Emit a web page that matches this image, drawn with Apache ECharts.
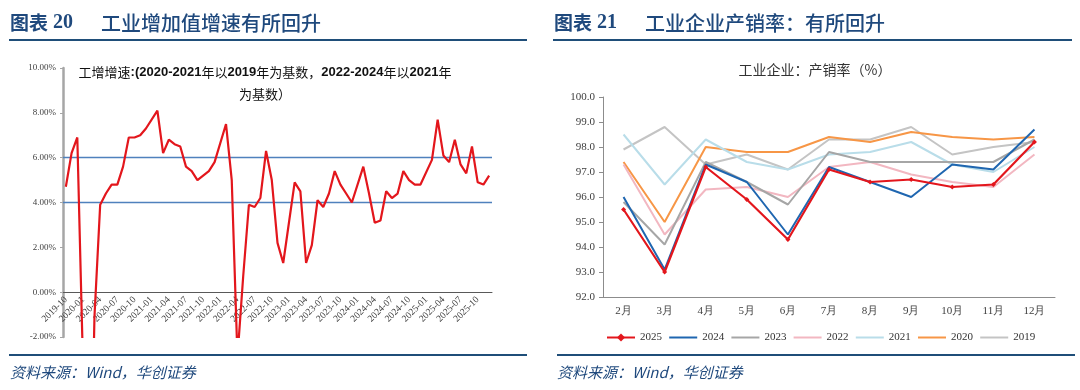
<!DOCTYPE html>
<html><head><meta charset="utf-8">
<script src="https://cdn.jsdelivr.net/npm/echarts@6/dist/echarts.min.js"></script>
<style>html,body{margin:0;padding:0;background:#fff}#c{width:1080px;height:390px}</style>
</head><body><div id="c"></div>
<script>
// ---- Left chart: industrial value-added growth (%), monthly 2019-10 .. 2025-12 (January not published -> null)
const ivaMonths = [
 '2019-10','2019-11','2019-12',
 '2020-01','2020-02','2020-03','2020-04','2020-05','2020-06','2020-07','2020-08','2020-09','2020-10','2020-11','2020-12',
 '2021-01','2021-02','2021-03','2021-04','2021-05','2021-06','2021-07','2021-08','2021-09','2021-10','2021-11','2021-12',
 '2022-01','2022-02','2022-03','2022-04','2022-05','2022-06','2022-07','2022-08','2022-09','2022-10','2022-11','2022-12',
 '2023-01','2023-02','2023-03','2023-04','2023-05','2023-06','2023-07','2023-08','2023-09','2023-10','2023-11','2023-12',
 '2024-01','2024-02','2024-03','2024-04','2024-05','2024-06','2024-07','2024-08','2024-09','2024-10','2024-11','2024-12',
 '2025-01','2025-02','2025-03','2025-04','2025-05','2025-06','2025-07','2025-08','2025-09','2025-10','2025-11','2025-12'
];
const ivaGrowth = [
 4.7, 6.2, 6.9,
 null, -13.5, -1.1, 3.9, 4.4, 4.8, 4.8, 5.6, 6.9, 6.9, 7.0, 7.3,
 null, 8.1, 6.2, 6.8, 6.6, 6.5, 5.6, 5.4, 5.0, 5.2, 5.4, 5.8,
 null, 7.5, 5.0, -2.9, 0.7, 3.9, 3.8, 4.2, 6.3, 5.0, 2.2, 1.3,
 null, 4.9, 4.5, 1.3, 2.1, 4.1, 3.8, 4.4, 5.4, 4.8, 4.4, 4.0,
 null, 5.6, 4.4, 3.1, 3.2, 4.5, 4.2, 4.4, 5.4, 5.0, 4.8, 4.8,
 null, 5.9, 7.7, 6.1, 5.8, 6.8, 5.7, 5.3, 6.5, 4.9, 4.8, 5.2
];
const ivaRefLevels = [4, 6];
const ivaYMin = -2, ivaYMax = 10, ivaYStep = 2;

// ---- Right chart: industrial enterprises production-sales ratio (%)
const psMonths = ['2月','3月','4月','5月','6月','7月','8月','9月','10月','11月','12月'];
const ps2025 = [95.5, 93.0, 97.2, 95.9, 94.3, 97.1, 96.6, 96.7, 96.4, 96.5, 98.2];
const ps2024 = [96.0, 93.1, 97.3, 96.6, 94.5, 97.2, 96.6, 96.0, 97.3, 97.1, 98.7];
const ps2023 = [95.8, 94.1, 97.4, 96.6, 95.7, 97.8, 97.4, 97.4, 97.4, 97.4, 98.3];
const ps2022 = [97.3, 94.5, 96.3, 96.4, 96.0, 97.2, 97.4, 96.9, 96.6, 96.4, 97.7];
const ps2021 = [98.5, 96.5, 98.3, 97.4, 97.1, 97.7, 97.8, 98.2, 97.3, 97.0, 98.0];
const ps2020 = [97.4, 95.0, 98.0, 97.8, 97.8, 98.4, 98.2, 98.6, 98.4, 98.3, 98.4];
const ps2019 = [97.9, 98.8, 97.3, 97.7, 97.1, 98.3, 98.3, 98.8, 97.7, 98.0, 98.2];
const psYears = ['2025','2024','2023','2022','2021','2020','2019'];
const psValues = [ps2025, ps2024, ps2023, ps2022, ps2021, ps2020, ps2019];

// styles (kept separate from data)
const psColors = ['#e3161c','#1f66b0','#a6a6a6','#f2b7c1','#b9dde9','#f79646','#c4c4c4'];
const SERIF = '"Liberation Serif","DejaVu Serif",serif';
const CJK = '"Noto Sans CJK SC","Noto Sans",sans-serif';
const HEAD = '#1f497d';

const leftGrid = { left: 63, right: 588, top: 68, bottom: 53 };
const leftPlotH = 390 - leftGrid.top - leftGrid.bottom;
// move the category axis up to the zero line (distance from bottom of the grid to 0)
const zeroOffset = -leftPlotH * (0 - ivaYMin) / (ivaYMax - ivaYMin);

const chart = echarts.init(document.getElementById('c'), null, {renderer:'canvas'});

const psSeries = psYears.map((y, k) => ({
  name: y, type: 'line', xAxisIndex: 1, yAxisIndex: 1,
  data: psValues[k],
  symbol: k === 0 ? 'diamond' : 'none',
  symbolSize: 5,
  showSymbol: k === 0,
  z: 20 - k,
  lineStyle: { color: psColors[k], width: k === 0 ? 2.2 : 2 },
  itemStyle: { color: psColors[k] },
  emphasis: { disabled: true },
  animation: false
}));

const option = {
  animation: false,
  grid: [
    Object.assign({ containLabel: false }, leftGrid),
    { left: 603, right: 25, top: 97, bottom: 93, containLabel: false }
  ],
  legend: {
    data: psYears.map((y, k) => k === 0 ? { name: y, itemStyle: { opacity: 1 } } : { name: y, itemStyle: { opacity: 0 } }),
    left: 601, top: 327, itemWidth: 28, itemHeight: 10, itemGap: 6.2,
    textStyle: { fontFamily: SERIF, fontSize: 11, color: '#333' }
  },
  xAxis: [
    { type: 'category', gridIndex: 0, data: ivaMonths, boundaryGap: true, offset: zeroOffset,
      axisLine: { onZero: false, lineStyle: { color: '#595959', width: 1 } },
      axisTick: { interval: 2, length: 5, lineStyle: { color: '#595959' } },
      axisLabel: { interval: 2, rotate: 45, fontSize: 9.5, fontFamily: SERIF, color: '#404040', margin: 6 },
      splitLine: { show: false } },
    { type: 'category', gridIndex: 1, data: psMonths, boundaryGap: true,
      axisLine: { lineStyle: { color: '#8c8c8c', width: 1 } },
      axisTick: { length: 4, lineStyle: { color: '#8c8c8c' } },
      axisLabel: { fontSize: 11, fontFamily: SERIF, color: '#404040', margin: 9 },
      splitLine: { show: false } }
  ],
  yAxis: [
    { type: 'value', gridIndex: 0, min: ivaYMin, max: ivaYMax, interval: ivaYStep,
      axisLine: { show: true, lineStyle: { color: '#a6a6a6', width: 2.5 } },
      axisTick: { show: true, length: 3, lineStyle: { color: '#a6a6a6' } },
      axisLabel: { formatter: v => v.toFixed(2) + '%', fontSize: 9, fontFamily: SERIF, color: '#404040', margin: 7 },
      splitLine: { show: false } },
    { type: 'value', gridIndex: 1, min: 92, max: 100, interval: 1,
      axisLine: { show: true, lineStyle: { color: '#8c8c8c', width: 1 } },
      axisTick: { show: true, length: 4, lineStyle: { color: '#8c8c8c' } },
      axisLabel: { formatter: v => v.toFixed(1), fontSize: 11, fontFamily: SERIF, color: '#404040', margin: 8 },
      splitLine: { show: false } }
  ],
  series: [
    { name: 'iva', type: 'line', xAxisIndex: 0, yAxisIndex: 0, data: ivaGrowth,
      connectNulls: true, showSymbol: false, symbol: 'none', clip: true, z: 5,
      lineStyle: { color: '#e3161c', width: 2.2 },
      emphasis: { disabled: true },
      markLine: { silent: true, symbol: 'none', label: { show: false }, animation: false,
        lineStyle: { color: '#4f81bd', width: 1.3, type: 'solid' },
        data: ivaRefLevels.map(v => ({ yAxis: v })) } }
  ].concat(psSeries),
  graphic: [
    // headers
    { type: 'text', x: 10, y: 23, style: { text: '{a|图表}{b| 20}', verticalAlign: 'middle',
        rich: { a: { fontFamily: CJK, fontWeight: 'bold', fontSize: 19, fill: HEAD },
                b: { fontFamily: SERIF, fontWeight: 'bold', fontSize: 20, fill: HEAD } } } },
    { type: 'text', x: 101, y: 23, style: { text: '工业增加值增速有所回升', verticalAlign: 'middle',
        fontFamily: CJK, fontWeight: 500, fontSize: 20, fill: HEAD } },
    { type: 'text', x: 554, y: 23, style: { text: '{a|图表}{b| 21}', verticalAlign: 'middle',
        rich: { a: { fontFamily: CJK, fontWeight: 'bold', fontSize: 19, fill: HEAD },
                b: { fontFamily: SERIF, fontWeight: 'bold', fontSize: 20, fill: HEAD } } } },
    { type: 'text', x: 645, y: 23, style: { text: '工业企业产销率：有所回升', verticalAlign: 'middle',
        fontFamily: CJK, fontWeight: 500, fontSize: 20, fill: HEAD } },
    { type: 'line', shape: { x1: 9, y1: 40, x2: 527, y2: 40 }, style: { stroke: '#1f4e79', lineWidth: 2 } },
    { type: 'line', shape: { x1: 553, y1: 40, x2: 1072, y2: 40 }, style: { stroke: '#1f4e79', lineWidth: 2 } },
    { type: 'line', shape: { x1: 9, y1: 355, x2: 527, y2: 355 }, style: { stroke: '#1f4e79', lineWidth: 2 } },
    { type: 'line', shape: { x1: 557, y1: 355, x2: 1075, y2: 355 }, style: { stroke: '#1f4e79', lineWidth: 2 } },
    // footers
    { type: 'text', x: 10, y: 372, style: { text: '资料来源：Wind，华创证券', verticalAlign: 'middle',
        fontFamily: CJK, fontStyle: 'italic', fontSize: 15, fill: HEAD } },
    { type: 'text', x: 557, y: 372, style: { text: '资料来源：Wind，华创证券', verticalAlign: 'middle',
        fontFamily: CJK, fontStyle: 'italic', fontSize: 15, fill: HEAD } },
    // chart titles
    { type: 'text', x: 265, y: 61, style: {
        text: '{a|工增增速}{b|:(2020-2021}{a|年以}{b|2019}{a|年为基数，}{b|2022-2024}{a|年以}{b|2021}{a|年}\n{a|为基数）}',
        align: 'center', verticalAlign: 'top',
        rich: { a: { fontFamily: CJK, fontSize: 13, fill: '#111', lineHeight: 22, align: 'center' },
                b: { fontFamily: '"Liberation Sans",Arial,sans-serif', fontWeight: 'bold', fontSize: 13, fill: '#111', lineHeight: 22, align: 'center' } } } },
    { type: 'text', x: 815, y: 70, style: { text: '工业企业：产销率（%）', align: 'center', verticalAlign: 'middle',
        fontFamily: CJK, fontSize: 14, fill: '#333' } }
  ]
};
chart.setOption(option);
</script>
</body></html>
